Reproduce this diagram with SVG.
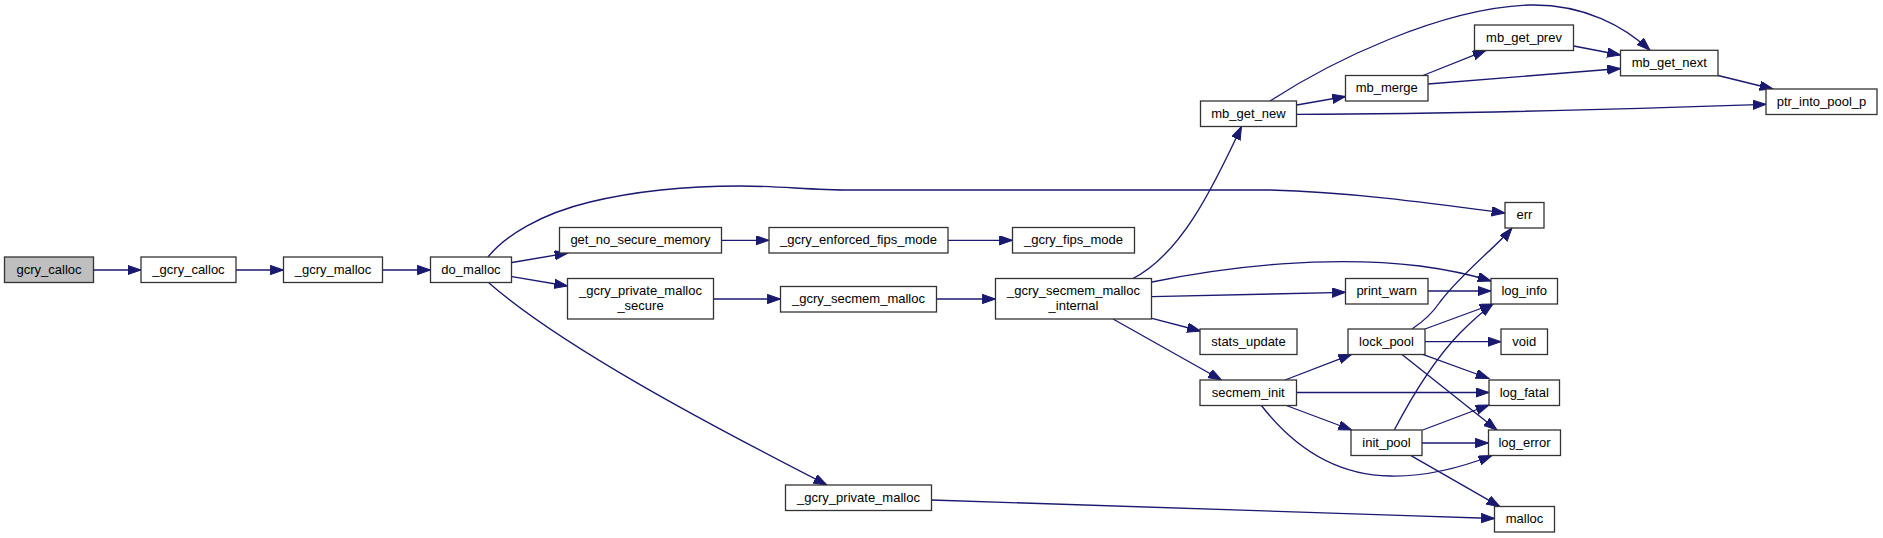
<svg xmlns="http://www.w3.org/2000/svg" width="1883" height="538" viewBox="0 0 1883 538">
<style>
.n rect{fill:#ffffff;stroke:#333333;stroke-width:1.3}
.n.root rect{fill:#bfbfbf}
.n text{font-family:"Liberation Sans",Arial,Helvetica,sans-serif;font-size:13px;fill:#000000;text-anchor:middle}
.e path{fill:none;stroke:#191970;stroke-width:1.33;marker-end:url(#ah)}
</style>
<defs>
<marker id="ah" markerWidth="15" markerHeight="11" refX="13.3" refY="4.67" orient="auto" markerUnits="userSpaceOnUse">
<path d="M0,0 L13.3,4.67 L0,9.33 z" fill="#191970" stroke="#191970" stroke-width="1"/>
</marker>
</defs>
<rect x="0" y="0" width="1883" height="538" fill="#ffffff"/>
<g id="edges" class="e">
<path d="M93.5,270 L141,270"/>
<path d="M236,270 L283.5,270"/>
<path d="M382.5,270 L430.5,270"/>
<path d="M488,257 C505,236 540,214 590,202 C640,190 690,186 740,186 C780,186 810,190 850,190 L1270,190 C1350,192 1430,203 1505,213"/>
<path d="M512,262.5 L568,253"/>
<path d="M512,276.7 L567.5,286"/>
<path d="M489,283 C560,345 700,420 827,485"/>
<path d="M721.5,240.3 L769,240.3"/>
<path d="M948,240.3 L1012.5,240.3"/>
<path d="M713.5,299 L780.5,299"/>
<path d="M936.5,299 L995.5,299"/>
<path d="M1132,279 C1180,255 1212,190 1241.5,126.5"/>
<path d="M1152,282 C1230,266 1330,255 1420,266 C1450,270 1475,276 1491,281"/>
<path d="M1152,296.7 L1345.5,292.3"/>
<path d="M1152,318.3 L1200.5,331"/>
<path d="M1113,319 L1221.5,380"/>
<path d="M1296.7,105 L1345.5,96.5"/>
<path d="M1270,101 C1330,62 1440,8 1530,5 C1585,4 1625,27 1650,50.3"/>
<path d="M1297,114.3 C1450,114 1600,110 1766,104.3"/>
<path d="M1423,75.5 L1486,50.3"/>
<path d="M1428,84 L1620.5,68.5"/>
<path d="M1573.7,46 L1620.5,55"/>
<path d="M1718,75.5 L1773,89"/>
<path d="M1428,291 L1491,291"/>
<path d="M1412,329 C1424,321 1432,314 1440,302 C1460,275 1498,245 1512,228"/>
<path d="M1425,329 L1493,304"/>
<path d="M1425,341.7 L1501,341.7"/>
<path d="M1422.7,354.3 L1489,378.5"/>
<path d="M1401.7,354.3 L1497,430"/>
<path d="M1285,380 L1351.7,354.3"/>
<path d="M1296.3,392.5 L1489,392.5"/>
<path d="M1285,405 L1351.7,430"/>
<path d="M1261,405 C1285,436 1325,475 1390,476 C1430,477 1465,466 1492,455.5"/>
<path d="M1394.3,430 C1410,400 1432,362 1460,333 C1472,321 1482,312 1493,304"/>
<path d="M1422.7,430 L1489,405"/>
<path d="M1422,443 L1488.5,443"/>
<path d="M1411,455.7 L1500,506.7"/>
<path d="M931.3,500 C1100,505 1300,512 1494.5,518.5"/>
</g>
<g id="node_gcry_calloc" class="n root"><rect x="4.5" y="257" width="89" height="25.5"/><text x="49" y="273.5">gcry_calloc</text></g>
<g id="node__gcry_calloc" class="n"><rect x="141" y="257" width="95" height="25.5"/><text x="188.5" y="273.5">_gcry_calloc</text></g>
<g id="node__gcry_malloc" class="n"><rect x="283.5" y="257" width="99" height="25.5"/><text x="333" y="273.5">_gcry_malloc</text></g>
<g id="node_do_malloc" class="n"><rect x="430.5" y="257" width="81" height="25.5"/><text x="471" y="273.5">do_malloc</text></g>
<g id="node_get_no_secure_memory" class="n"><rect x="559.5" y="227.5" width="162" height="25.5"/><text x="640.5" y="244">get_no_secure_memory</text></g>
<g id="node__gcry_enforced_fips_mode" class="n"><rect x="769" y="227.5" width="179" height="25.5"/><text x="858.5" y="244">_gcry_enforced_fips_mode</text></g>
<g id="node__gcry_fips_mode" class="n"><rect x="1012.5" y="227.5" width="122" height="25.5"/><text x="1073.5" y="244">_gcry_fips_mode</text></g>
<g id="node__gcry_private_malloc_secure" class="n"><rect x="567.5" y="278.5" width="146" height="40.5"/><text x="640.5" y="294.5">_gcry_private_malloc</text><text x="640.5" y="309.5">_secure</text></g>
<g id="node__gcry_secmem_malloc" class="n"><rect x="780.5" y="286.5" width="156" height="25.5"/><text x="858.5" y="303">_gcry_secmem_malloc</text></g>
<g id="node__gcry_secmem_malloc_internal" class="n"><rect x="995.5" y="278.5" width="156" height="40.5"/><text x="1073.5" y="294.5">_gcry_secmem_malloc</text><text x="1073.5" y="309.5">_internal</text></g>
<g id="node__gcry_private_malloc" class="n"><rect x="785.5" y="485" width="146" height="25.5"/><text x="858.5" y="501.5">_gcry_private_malloc</text></g>
<g id="node_mb_get_new" class="n"><rect x="1200.5" y="101" width="96" height="25.5"/><text x="1248.5" y="117.5">mb_get_new</text></g>
<g id="node_mb_merge" class="n"><rect x="1345.5" y="75.5" width="82.5" height="25.5"/><text x="1386.75" y="92">mb_merge</text></g>
<g id="node_mb_get_prev" class="n"><rect x="1474.5" y="25" width="99" height="25.5"/><text x="1524" y="41.5">mb_get_prev</text></g>
<g id="node_mb_get_next" class="n"><rect x="1620.5" y="50.3" width="97.5" height="25.5"/><text x="1669.25" y="66.8">mb_get_next</text></g>
<g id="node_ptr_into_pool_p" class="n"><rect x="1766" y="89" width="111" height="25.5"/><text x="1821.5" y="105.5">ptr_into_pool_p</text></g>
<g id="node_err" class="n"><rect x="1505" y="202.5" width="39" height="25.5"/><text x="1524.5" y="219">err</text></g>
<g id="node_log_info" class="n"><rect x="1491" y="278.5" width="66.5" height="25.5"/><text x="1524.25" y="295">log_info</text></g>
<g id="node_print_warn" class="n"><rect x="1345.5" y="278.5" width="82.5" height="25.5"/><text x="1386.75" y="295">print_warn</text></g>
<g id="node_stats_update" class="n"><rect x="1200" y="329" width="97" height="25.5"/><text x="1248.5" y="345.5">stats_update</text></g>
<g id="node_lock_pool" class="n"><rect x="1348" y="329" width="77" height="25.5"/><text x="1386.5" y="345.5">lock_pool</text></g>
<g id="node_void" class="n"><rect x="1501" y="329" width="46.5" height="25.5"/><text x="1524.25" y="345.5">void</text></g>
<g id="node_secmem_init" class="n"><rect x="1200" y="380" width="96.5" height="25.5"/><text x="1248.25" y="396.5">secmem_init</text></g>
<g id="node_log_fatal" class="n"><rect x="1489" y="380" width="70.5" height="25.5"/><text x="1524.25" y="396.5">log_fatal</text></g>
<g id="node_init_pool" class="n"><rect x="1351" y="430" width="71" height="25.5"/><text x="1386.5" y="446.5">init_pool</text></g>
<g id="node_log_error" class="n"><rect x="1488.5" y="430" width="72" height="25.5"/><text x="1524.5" y="446.5">log_error</text></g>
<g id="node_malloc" class="n"><rect x="1494.5" y="506.5" width="60" height="25.5"/><text x="1524.5" y="523">malloc</text></g>
</svg>
